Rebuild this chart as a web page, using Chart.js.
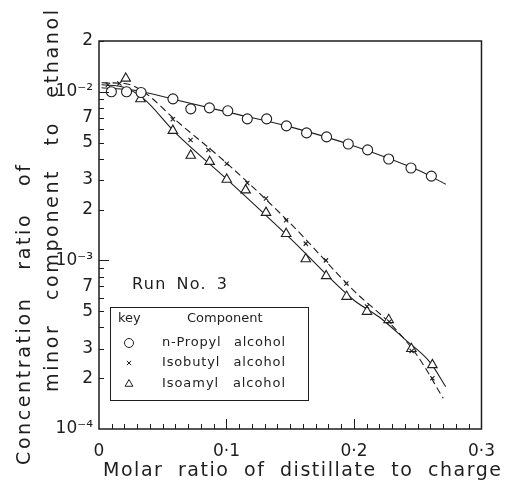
<!DOCTYPE html>
<html>
<head>
<meta charset="utf-8">
<script src="https://cdn.jsdelivr.net/npm/chart.js@4"></script>
<style>html,body{margin:0;padding:0;background:#fff}</style>
</head>
<body>
<canvas id="c" width="507" height="485"></canvas>
<script>
// values (x = molar ratio of distillate to charge, y = concentration ratio)
const propylX = [0.0097, 0.0216, 0.033, 0.058, 0.072, 0.0866, 0.101, 0.1163, 0.1315, 0.147, 0.1628, 0.1785, 0.1955, 0.2107, 0.2272, 0.2447, 0.2607];
const propylY = [1.0e-2, 1.0e-2, 0.99e-2, 0.908e-2, 0.792e-2, 0.803e-2, 0.771e-2, 0.691e-2, 0.691e-2, 0.628e-2, 0.57e-2, 0.54e-2, 0.49e-2, 0.452e-2, 0.399e-2, 0.353e-2, 0.316e-2];

const isobutylX = [0.007, 0.016, 0.033, 0.0579, 0.0718, 0.0858, 0.1002, 0.1163, 0.131, 0.1468, 0.1622, 0.178, 0.194, 0.2102, 0.2277, 0.2452, 0.2615];
const isobutylY = [1.1e-2, 1.12e-2, 0.99e-2, 6.88e-3, 5.18e-3, 4.52e-3, 3.74e-3, 2.88e-3, 2.33e-3, 1.73e-3, 1.257e-3, 1.0e-3, 7.3e-4, 5.33e-4, 4.33e-4, 2.9e-4, 2.0e-4];

const isoamylX = [0.021, 0.0325, 0.0579, 0.072, 0.0868, 0.1002, 0.115, 0.131, 0.1468, 0.1622, 0.1782, 0.1942, 0.2102, 0.2272, 0.245, 0.2615];
const isoamylY = [1.2e-2, 9.05e-3, 5.88e-3, 4.19e-3, 3.85e-3, 3.02e-3, 2.61e-3, 1.92e-3, 1.44e-3, 1.02e-3, 8.09e-4, 6.1e-4, 4.97e-4, 4.44e-4, 2.99e-4, 2.4e-4];

// the hand drawn curves, read at a few places
const propylCurveX = [0.002, 0.03, 0.06, 0.1, 0.15, 0.2, 0.25, 0.272];
const propylCurveY = [1.056e-2, 1.014e-2, 0.896e-2, 7.6e-3, 6.19e-3, 4.77e-3, 3.43e-3, 2.83e-3];
const isobutylCurveX = [0.002, 0.02, 0.035, 0.06, 0.1, 0.15, 0.2, 0.23, 0.25, 0.27];
const isobutylCurveY = [1.13e-2, 1.12e-2, 1.0e-2, 6.8e-3, 3.78e-3, 1.66e-3, 6.6e-4, 4.1e-4, 2.7e-4, 1.52e-4];
const isoamylCurveX = [0.002, 0.02, 0.035, 0.06, 0.1, 0.15, 0.2, 0.22, 0.24, 0.26, 0.272];
const isoamylCurveY = [1.1e-2, 1.06e-2, 9.1e-3, 5.7e-3, 3.04e-3, 1.35e-3, 5.8e-4, 4.6e-4, 3.4e-4, 2.47e-4, 1.78e-4];

const xTickVals = [0, 0.1, 0.2, 0.3];
const xTickLabels = ["0", "0·1", "0·2", "0·3"];
const yTickVals = [1e-4, 2e-4, 3e-4, 5e-4, 7e-4, 1e-3, 2e-3, 3e-3, 5e-3, 7e-3, 1e-2, 2e-2];
const yTickLabels = ["10⁻⁴", "2", "3", "5", "7", "10⁻³", "2", "3", "5", "7", "10⁻²", "2"];

const legendNames = ["n-Propyl alcohol", "Isobutyl alcohol", "Isoamyl alcohol"];
const legendSymbols = ["circle", "crossRot", "triangle"];

const FONT = "DejaVu Sans";
const INK = "#1e1e1e";

const pts = (xs, ys) => xs.map((x, i) => ({x: x, y: ys[i]}));

function spacedText(ctx, text, x, y, width) {
    // the scan is set loosely: stretch letters a little and word gaps a bit more
    ctx.letterSpacing = "0px";
    ctx.wordSpacing = "0px";
    const extra = Math.max(0, width - ctx.measureText(text).width);
    const gaps = text.split(" ").length - 1;
    const ls = extra * (gaps > 0 ? 0.6 : 1) / (text.length - 1);
    ctx.letterSpacing = ls + "px";
    if (gaps > 0) ctx.wordSpacing = (extra * 0.4 / gaps) + "px";
    const dx = ctx.textAlign === "center" ? ls / 2 : 0;
    ctx.fillText(text, x + dx, y);
    ctx.letterSpacing = "0px";
    ctx.wordSpacing = "0px";
}

const decor = {
    id: "decor",
    afterDraw(chart) {
        const ctx = chart.ctx;
        const a = chart.chartArea;
        const xs = chart.scales.x, ys = chart.scales.y;
        ctx.save();
        ctx.strokeStyle = INK;
        ctx.fillStyle = INK;

        // frame
        ctx.lineWidth = 1.5;
        ctx.strokeRect(a.left, a.top, a.right - a.left, a.bottom - a.top);

        // inward ticks
        ctx.lineWidth = 1;
        ctx.beginPath();
        for (let i = 1; i < 30; i++) {
            const px = Math.round(xs.getPixelForValue(i / 100)) + 0.5;
            const len = i % 10 === 0 ? 10 : 5;
            ctx.moveTo(px, a.bottom);
            ctx.lineTo(px, a.bottom - len);
        }
        for (let d = -4; d <= -2; d++) {
            for (let m = 1; m <= 9; m++) {
                const v = m * Math.pow(10, d);
                if (v <= 1e-4 || v > 2e-2) continue;
                const py = Math.round(ys.getPixelForValue(v)) + 0.5;
                const len = m === 1 ? 10 : 5;
                ctx.moveTo(a.left, py);
                ctx.lineTo(a.left + len, py);
            }
        }
        ctx.stroke();

        // axis titles
        ctx.textAlign = "center";
        ctx.textBaseline = "middle";
        ctx.font = "19px '" + FONT + "'";
        spacedText(ctx, "Molar ratio of distillate to charge", 302, 471, 398);
        ctx.save();
        ctx.translate(25, 315);
        ctx.rotate(-Math.PI / 2);
        spacedText(ctx, "Concentration ratio of", 0, 0, 300);
        ctx.restore();
        ctx.save();
        ctx.translate(53, 201);
        ctx.rotate(-Math.PI / 2);
        spacedText(ctx, "minor component to ethanol", 0, 0, 382);
        ctx.restore();

        // run label
        ctx.textAlign = "left";
        ctx.font = "16px '" + FONT + "'";
        spacedText(ctx, "Run No. 3", 132, 285, 95);

        // key box
        ctx.lineWidth = 1;
        ctx.strokeRect(110.5, 307.5, 198, 93);
        ctx.font = "13px '" + FONT + "'";
        ctx.fillText("key", 118, 319);
        ctx.fillText("Component", 187, 319);
        const rowY = [343, 363, 384];
        legendNames.forEach((name, i) => {
            ctx.fillStyle = INK;
            spacedText(ctx, name, 162, rowY[i], 123);
            ctx.fillStyle = "#fff";
            Chart.helpers.drawPoint(ctx, {
                pointStyle: legendSymbols[i],
                radius: legendSymbols[i] === "crossRot" ? 3 : 4.5,
                rotation: 0,
                borderWidth: 1
            }, 129, rowY[i]);
        });
        ctx.restore();
    }
};

const curveStyle = {
    showLine: true, pointRadius: 0, borderColor: INK, borderWidth: 1.1,
    cubicInterpolationMode: "monotone", order: 2
};
const markStyle = {
    showLine: false, borderColor: INK, backgroundColor: "#fff",
    pointBorderWidth: 1.1, order: 1
};

new Chart(document.getElementById("c"), {
    type: "scatter",
    data: {
        datasets: [
            Object.assign({label: "propyl curve", data: pts(propylCurveX, propylCurveY)}, curveStyle),
            Object.assign({label: "isobutyl curve", data: pts(isobutylCurveX, isobutylCurveY), borderDash: [7, 4]}, curveStyle),
            Object.assign({label: "isoamyl curve", data: pts(isoamylCurveX, isoamylCurveY)}, curveStyle),
            Object.assign({label: "n-Propyl alcohol", data: pts(propylX, propylY), pointStyle: "circle", pointRadius: 5}, markStyle),
            Object.assign({label: "Isobutyl alcohol", data: pts(isobutylX, isobutylY), pointStyle: "crossRot", pointRadius: 3}, markStyle),
            Object.assign({label: "Isoamyl alcohol", data: pts(isoamylX, isoamylY), pointStyle: "triangle", pointRadius: 5.5}, markStyle)
        ]
    },
    options: {
        responsive: false,
        animation: false,
        layout: {padding: {top: 41, right: 14, left: 0, bottom: 0}},
        plugins: {legend: {display: false}, tooltip: {enabled: false}},
        scales: {
            x: {
                type: "linear", min: 0, max: 0.3,
                afterFit(s) { s.height = 56; },
                afterBuildTicks(s) { s.ticks = xTickVals.map(v => ({value: v})); },
                grid: {display: false, drawTicks: false},
                border: {display: false},
                ticks: {
                    padding: 12, color: INK, autoSkip: false, maxRotation: 0,
                    font: {family: FONT, size: 17},
                    callback: (v, i) => xTickLabels[i]
                }
            },
            y: {
                type: "logarithmic", min: 1e-4, max: 2e-2,
                afterFit(s) { s.width = 99; },
                afterBuildTicks(s) { s.ticks = yTickVals.map(v => ({value: v})); },
                grid: {display: false, drawTicks: false},
                border: {display: false},
                ticks: {
                    padding: 6, color: INK, autoSkip: false,
                    font: {family: FONT, size: 17},
                    callback: (v, i) => yTickLabels[i]
                }
            }
        }
    },
    plugins: [decor]
});
</script>
</body>
</html>
